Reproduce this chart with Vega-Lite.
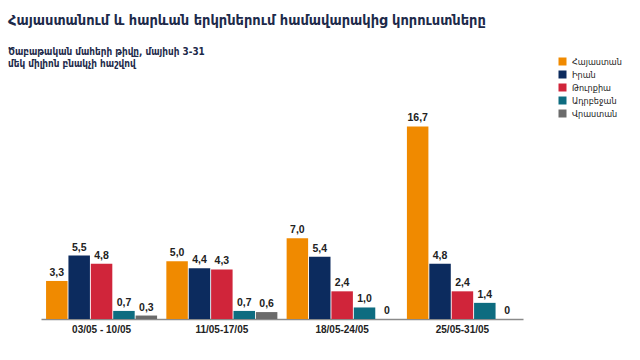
{
  "$schema": "https://vega.github.io/schema/vega-lite/v6.json",
  "width": 482,
  "height": 196,
  "autosize": "none",
  "padding": {"left": 41, "top": 123, "right": 117, "bottom": 41},
  "background": "white",
  "config": {
    "view": {"stroke": null},
    "font": "DejaVu Sans",
    "locale": {"number": {"decimal": ",", "thousands": " ", "grouping": [3], "currency": ["", ""]}}
  },
  "title": {
    "text": "Հայաստանում և հարևան երկրներում համավարակից կորուստները",
    "subtitle": ["Ծաբաթական մահերի թիվը, մայիսի 3-31", "մեկ միլիոն բնակչի հաշվով"],
    "anchor": "start",
    "frame": "group",
    "dx": -33,
    "offset": -13,
    "font": "DejaVu Sans Condensed",
    "fontSize": 14.5,
    "fontWeight": "bold",
    "color": "#1d2a4a",
    "subtitleFont": "DejaVu Sans Condensed",
    "subtitleFontSize": 9.9,
    "subtitleFontWeight": "bold",
    "subtitleColor": "#1d2a4a",
    "subtitlePadding": 19,
    "subtitleLineHeight": 12
  },
  "data": {
    "values": [
      {"week": "03/05 - 10/05", "country": "Հայաստան", "v": 3.3},
      {"week": "03/05 - 10/05", "country": "Իրան", "v": 5.5},
      {"week": "03/05 - 10/05", "country": "Թուրքիա", "v": 4.8},
      {"week": "03/05 - 10/05", "country": "Ադրբեջան", "v": 0.7},
      {"week": "03/05 - 10/05", "country": "Վրաստան", "v": 0.3},
      {"week": "11/05-17/05", "country": "Հայաստան", "v": 5.0},
      {"week": "11/05-17/05", "country": "Իրան", "v": 4.4},
      {"week": "11/05-17/05", "country": "Թուրքիա", "v": 4.3},
      {"week": "11/05-17/05", "country": "Ադրբեջան", "v": 0.7},
      {"week": "11/05-17/05", "country": "Վրաստան", "v": 0.6},
      {"week": "18/05-24/05", "country": "Հայաստան", "v": 7.0},
      {"week": "18/05-24/05", "country": "Իրան", "v": 5.4},
      {"week": "18/05-24/05", "country": "Թուրքիա", "v": 2.4},
      {"week": "18/05-24/05", "country": "Ադրբեջան", "v": 1.0},
      {"week": "18/05-24/05", "country": "Վրաստան", "v": 0},
      {"week": "25/05-31/05", "country": "Հայաստան", "v": 16.7},
      {"week": "25/05-31/05", "country": "Իրան", "v": 4.8},
      {"week": "25/05-31/05", "country": "Թուրքիա", "v": 2.4},
      {"week": "25/05-31/05", "country": "Ադրբեջան", "v": 1.4},
      {"week": "25/05-31/05", "country": "Վրաստան", "v": 0}
    ]
  },
  "encoding": {
    "x": {
      "field": "week", "type": "nominal", "sort": null, "title": null,
      "scale": {"paddingInner": 0.077, "paddingOuter": 0.042},
      "axis": {
        "labelAngle": 0, "ticks": false, "domainColor": "#8a8a8a", "domainWidth": 1.5,
        "labelFont": "Liberation Sans", "labelFontSize": 10, "labelFontWeight": "bold",
        "labelColor": "#222222", "labelPadding": 5
      }
    },
    "xOffset": {"field": "country", "type": "nominal", "sort": null, "scale": {"paddingInner": 0.04}},
    "y": {"field": "v", "type": "quantitative", "scale": {"domain": [0, 17]}, "axis": null}
  },
  "layer": [
    {
      "mark": {"type": "bar"},
      "encoding": {
        "color": {
          "field": "country", "type": "nominal", "sort": null,
          "scale": {
            "domain": ["Հայաստան", "Իրան", "Թուրքիա", "Ադրբեջան", "Վրաստան"],
            "range": ["#f08a00", "#0c2b5e", "#d0253a", "#0e6c80", "#6b6b6b"]
          },
          "legend": {
            "title": null, "orient": "none", "legendX": 517, "legendY": -66,
            "symbolType": "square", "symbolSize": 64, "symbolStrokeWidth": 0,
            "labelFont": "DejaVu Sans Condensed", "labelFontSize": 9, "labelColor": "#222222",
            "rowPadding": 3, "padding": 0, "labelOffset": 5
          }
        }
      }
    },
    {
      "mark": {"type": "text", "baseline": "bottom", "dy": -3, "font": "Liberation Sans", "fontSize": 10.5, "fontWeight": "bold", "color": "#222222"},
      "encoding": {
        "text": {
          "condition": {"test": "datum.v === 0", "value": "0"},
          "field": "v", "type": "quantitative", "format": ".1f"
        }
      }
    }
  ]
}
